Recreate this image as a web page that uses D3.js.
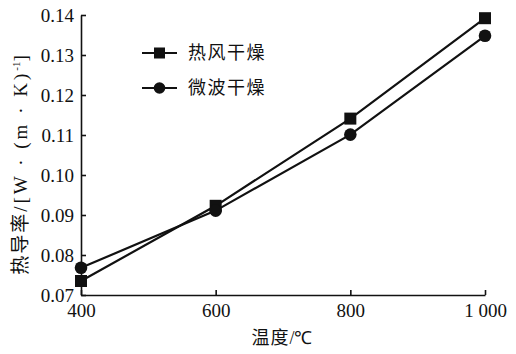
<!DOCTYPE html>
<html>
<head>
<meta charset="utf-8">
<script src="https://cdn.jsdelivr.net/npm/d3@7"></script>
<style>
  body { margin: 0; background: #fff; }
  svg text { fill: #111; }
</style>
</head>
<body>
<div id="chart"></div>
<script>
// data
var temps = [400, 600, 800, 1000];
var hotAir = [0.0735, 0.0923, 0.1141, 0.1392];
var microwave = [0.0768, 0.0911, 0.1101, 0.1348];
var seriesNames = ["热风干燥", "微波干燥"];
var xTickLabels = ["400", "600", "800", "1 000"];
var yTicks = [0.07, 0.08, 0.09, 0.10, 0.11, 0.12, 0.13, 0.14];

var W = 516, H = 354;
var margin = {top: 15, right: 31, bottom: 59, left: 81};
var width = W - margin.left - margin.right,
    height = H - margin.top - margin.bottom;

var numFont = "'Liberation Serif', 'Times New Roman', serif";
var cjkFont = "'Noto Sans CJK SC', sans-serif";

var svg = d3.select("#chart")
    .append("svg")
    .attr("width", W)
    .attr("height", H)
    .append("g")
    .attr("transform", "translate(" + margin.left + "," + margin.top + ")");

var xScale = d3.scaleLinear()
    .domain([400, 1000])
    .range([0, width]);

var yScale = d3.scaleLinear()
    .domain([0.07, 0.14])
    .range([height, 0]);

// axes, ticks pointing inward
var xAxis = d3.axisBottom(xScale)
    .tickValues(temps)
    .tickSizeInner(-5)
    .tickSizeOuter(0)
    .tickPadding(12)
    .tickFormat(function(d, i) { return xTickLabels[i]; });

var yAxis = d3.axisLeft(yScale)
    .tickValues(yTicks)
    .tickSizeInner(-5)
    .tickSizeOuter(0)
    .tickPadding(7)
    .tickFormat(d3.format(".2f"));

var gx = svg.append("g")
    .attr("transform", "translate(0," + height + ")")
    .call(xAxis);
var gy = svg.append("g").call(yAxis);

[gx, gy].forEach(function(g) {
    g.selectAll(".domain").attr("stroke", "#111").attr("stroke-width", 1.6);
    g.selectAll(".tick line").attr("stroke", "#111").attr("stroke-width", 1.6);
    g.selectAll(".tick text")
        .style("font-family", numFont)
        .style("font-size", "19px")
        .attr("fill", "#111");
});
gx.selectAll(".tick text").attr("dy", "0.55em");
gy.selectAll(".tick text").attr("dy", "0.35em");

// axis titles: CJK characters in the CJK font, the rest in serif
function addParts(textSel, parts) {
    parts.forEach(function(p) {
        var t = textSel.append("tspan")
            .style("font-family", p.cjk ? cjkFont : numFont)
            .text(p.s);
        if (p.dy) t.attr("dy", p.dy);
        if (p.size) t.style("font-size", p.size);
        if (p.ls) t.style("letter-spacing", p.ls);
    });
}

var xTitle = svg.append("text")
    .attr("x", width / 2 - 1)
    .attr("y", height + 49)
    .attr("text-anchor", "middle")
    .style("font-size", "18px");
addParts(xTitle, [{s: "温度", cjk: true, ls: "1px"}, {s: "/℃"}]);

var yTitle = svg.append("text")
    .attr("transform", "translate(" + (-54) + "," + (height / 2 + 10) + ") rotate(-90)")
    .attr("text-anchor", "middle")
    .style("font-size", "19px");
addParts(yTitle, [
    {s: "热导率", cjk: true, ls: "2px"},
    {s: "/[W · (m · K)", ls: "3px"},
    {s: "-1", dy: -7, size: "11px"},
    {s: "]", dy: 7}
]);

// lines and markers
var series = [
    {name: seriesNames[0], values: hotAir, shape: "square"},
    {name: seriesNames[1], values: microwave, shape: "circle"}
];

var line = d3.line()
    .x(function(d) { return xScale(d.t); })
    .y(function(d) { return yScale(d.v); });

series.forEach(function(s) {
    var pts = temps.map(function(t, i) { return {t: t, v: s.values[i]}; });
    svg.append("path")
        .datum(pts)
        .attr("fill", "none")
        .attr("stroke", "#111")
        .attr("stroke-width", 2.2)
        .attr("d", line);

    if (s.shape === "square") {
        svg.selectAll(".sq")
            .data(pts).enter()
            .append("rect")
            .attr("x", function(d) { return xScale(d.t) - 6; })
            .attr("y", function(d) { return yScale(d.v) - 6; })
            .attr("width", 12)
            .attr("height", 12)
            .attr("fill", "#111");
    } else {
        svg.selectAll(".ci")
            .data(pts).enter()
            .append("circle")
            .attr("cx", function(d) { return xScale(d.t); })
            .attr("cy", function(d) { return yScale(d.v); })
            .attr("r", 6.3)
            .attr("fill", "#111");
    }
});

// legend
var legend = svg.append("g").attr("transform", "translate(61,38)");
series.forEach(function(s, i) {
    var g = legend.append("g").attr("transform", "translate(0," + (i * 35) + ")");
    g.append("line")
        .attr("x1", 0).attr("x2", 35)
        .attr("stroke", "#111").attr("stroke-width", 2.2);
    if (s.shape === "square") {
        g.append("rect").attr("x", 12).attr("y", -5.5)
            .attr("width", 11).attr("height", 11).attr("fill", "#111");
    } else {
        g.append("circle").attr("cx", 17.5).attr("r", 5.8).attr("fill", "#111");
    }
    g.append("text")
        .attr("x", 46)
        .attr("dy", "0.35em")
        .style("font-family", cjkFont)
        .style("font-size", "18px")
        .style("letter-spacing", "1.5px")
        .text(s.name);
});
</script>
</body>
</html>
